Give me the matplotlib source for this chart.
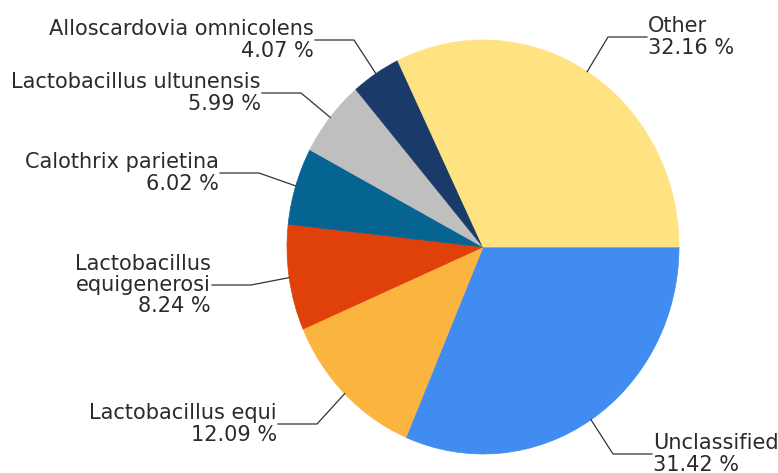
import matplotlib
matplotlib.use("Agg")
import matplotlib.pyplot as plt
import numpy as np

# ---- data ----
labels = ["Unclassified", "Lactobacillus equi", "Lactobacillus\nequigenerosi",
          "Calothrix parietina", "Lactobacillus ultunensis",
          "Alloscardovia omnicolens", "Other"]
values = [31.42, 12.09, 8.24, 6.02, 5.99, 4.07, 32.16]
colors = ["#418CF0", "#FCB441", "#E0400A", "#056492", "#BFBFBF", "#1A3B69", "#FFE382"]

# ---- layout (figure pixels, y downward) ----
W, H = 778, 473
pie_box = (287, 679, 40, 454)  # left, right, top, bottom
label_ends = [(652, 454), (278, 424), (212, 285), (220, 173), (262, 93), (315, 40), (647, 37)]
label_side = ["right", "left", "left", "left", "left", "left", "right"]
seg = 39

fig = plt.figure(figsize=(W / 100, H / 100), dpi=100)
l, r, t, b = pie_box
ax = fig.add_axes([l / W, 1 - b / H, (r - l) / W, (b - t) / H])
wedges, _ = ax.pie(values, colors=colors, startangle=0, counterclock=False,
                   wedgeprops=dict(linewidth=0.5))
for w, c in zip(wedges, colors):
    w.set_edgecolor(c)
ax.set_aspect("auto")
ax.set_xlim(-1, 1)
ax.set_ylim(-1, 1)
ax.axis("off")

ov = fig.add_axes([0, 0, 1, 1])
ov.set_xlim(0, W)
ov.set_ylim(H, 0)
ov.axis("off")
ov.patch.set_alpha(0)

inv = ov.transData.inverted()
for w, lab, val, end, side in zip(wedges, labels, values, label_ends, label_side):
    th = np.deg2rad((w.theta1 + w.theta2) / 2)
    ax_pt = ax.transData.transform((np.cos(th), np.sin(th)))
    anc = inv.transform(ax_pt)
    ex, ey = end
    if side == "right":
        elbow = (ex - seg, ey)
        tx, ha = ex + 1, "left"
    else:
        elbow = (ex + seg, ey)
        tx, ha = ex - 1, "right"
    ov.plot([anc[0], elbow[0], ex], [anc[1], elbow[1], ey], color="#333333", lw=0.9)
    ov.text(tx, ey, f"{lab}\n{val:.2f} %", ha=ha, va="center", multialignment=ha,
            fontsize=15, linespacing=1.08, color="#2b2b2b", family="DejaVu Sans")

fig.savefig("out.png", dpi=100, facecolor="white")
